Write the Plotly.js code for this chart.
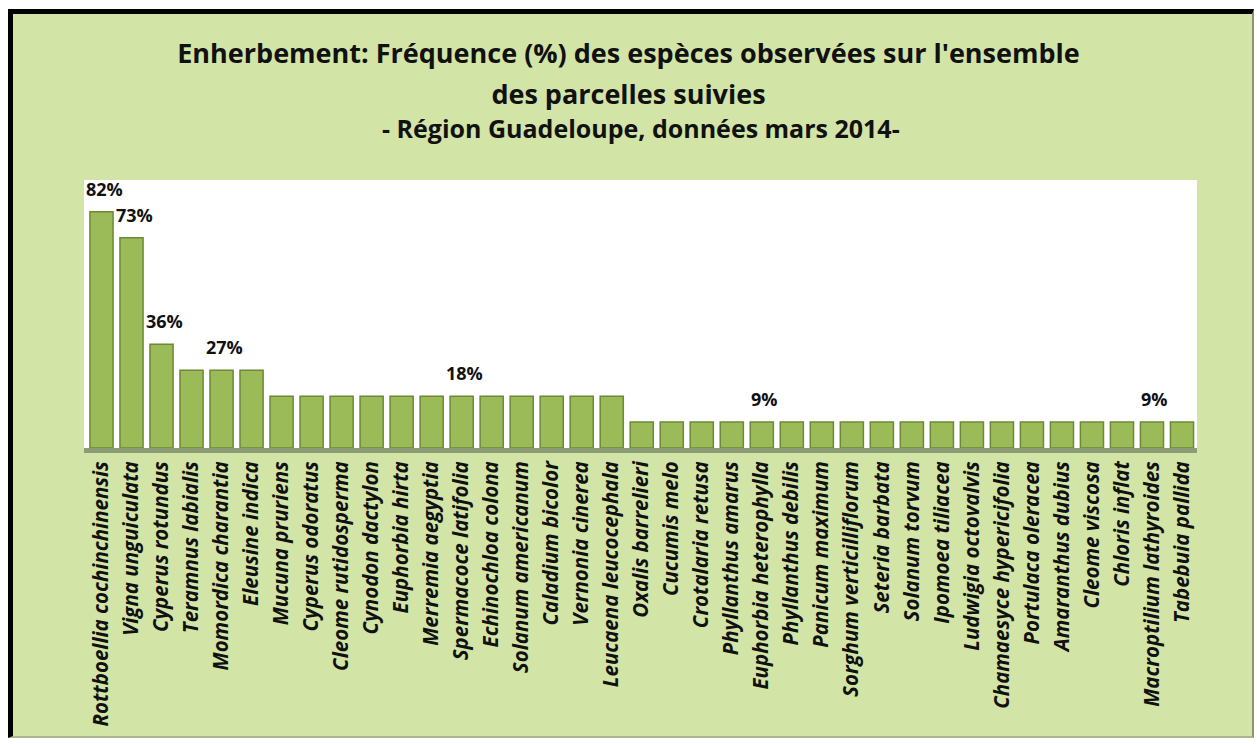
<!DOCTYPE html>
<html>
<head>
<meta charset="utf-8">
<script src="https://cdn.plot.ly/plotly-3.0.1.min.js"></script>
<style>
  html, body { margin: 0; padding: 0; background: #ffffff; }
  #frame {
    position: absolute; left: 8px; top: 9px; width: 1239px; height: 722px;
    background: #d3e4a7;
    border-left: 5px solid #000; border-top: 5px solid #000;
    border-right: 2px solid #8a9478; border-bottom: 2px solid #a9b890;
  }
  #chart { position: absolute; left: 0; top: 0; width: 1257px; height: 744px; }
</style>
</head>
<body>
<div id="frame"></div>
<div id="chart"></div>
<script>
// ---- Data ----
const species = [
  "Rottboellia cochinchinensis", "Vigna unguiculata", "Cyperus rotundus",
  "Teramnus labialis", "Momordica charantia", "Eleusine indica",
  "Mucuna pruriens", "Cyperus odoratus", "Cleome rutidosperma",
  "Cynodon dactylon", "Euphorbia hirta", "Merremia aegyptia",
  "Spermacoce latifolia", "Echinochloa colona", "Solanum americanum",
  "Caladium bicolor", "Vernonia cinerea", "Leucaena leucocephala",
  "Oxalis barrelieri", "Cucumis melo", "Crotalaria retusa",
  "Phyllanthus amarus", "Euphorbia heterophylla", "Phyllanthus debilis",
  "Panicum maximum", "Sorghum verticilliflorum", "Seteria barbata",
  "Solanum torvum", "Ipomoea tiliacea", "Ludwigia octovalvis",
  "Chamaesyce hypericifolia", "Portulaca oleracea", "Amaranthus dubius",
  "Cleome viscosa", "Chloris inflat", "Macroptilium lathyroides",
  "Tabebuia pallida"
];
const frequency = [
  82, 73, 36,
  27, 27, 27,
  18, 18, 18,
  18, 18, 18,
  18, 18, 18,
  18, 18, 18,
  9, 9, 9,
  9, 9, 9,
  9, 9, 9,
  9, 9, 9,
  9, 9, 9,
  9, 9, 9,
  9
];
// species whose value is written above the bar
const labelledSpecies = [
  "Rottboellia cochinchinensis", "Vigna unguiculata", "Cyperus rotundus",
  "Momordica charantia", "Spermacoce latifolia", "Euphorbia heterophylla",
  "Macroptilium lathyroides"
];
const titleLines = [
  "Enherbement: Fréquence (%) des espèces observées sur l'ensemble",
  "des parcelles suivies"
];
const subtitle = "- Région Guadeloupe, données mars 2014-";

// ---- Chart ----
const FONT = "'Open Sans', Lato, sans-serif";

const trace = {
  type: "bar",
  x: species,
  y: frequency,
  marker: { color: "#9bbb59", line: { color: "#6b8a33", width: 1.5 } },
  hoverinfo: "skip"
};

const annotations = labelledSpecies.map(name => {
  const v = frequency[species.indexOf(name)];
  return {
    x: name, y: v, xref: "x", yref: "y",
    text: v + "%", showarrow: false,
    yanchor: "bottom", yshift: 9, xshift: 3,
    font: { family: FONT, size: 18, color: "#111", weight: "bold" }
  };
});
annotations.push({
  xref: "paper", yref: "paper", x: 0.5, y: 1, yshift: 52,
  xanchor: "center", yanchor: "middle", showarrow: false,
  text: subtitle,
  font: { family: FONT, size: 25, color: "#111", weight: "bold" }
});

const layout = {
  width: 1257, height: 744,
  paper_bgcolor: "rgba(0,0,0,0)",
  plot_bgcolor: "#ffffff",
  margin: { l: 84, r: 60, t: 180, b: 296, pad: 0 },
  showlegend: false,
  bargap: 0.23,
  title: {
    text: titleLines.map(t => '<span style="font-size:27px">' + t + '</span>').join("<br>"),
    x: 0.5, xanchor: "center", xref: "container",
    y: 0.915, yanchor: "top", yref: "container",
    font: { family: FONT, size: 31, color: "#111", weight: "bold" }
  },
  xaxis: {
    type: "category",
    tickangle: -90,
    ticks: "",
    showgrid: false,
    showline: true, linecolor: "#8c9c74", linewidth: 5,
    tickfont: { family: FONT, size: 20.5, color: "#111", weight: "bold", style: "italic" },
    automargin: false
  },
  yaxis: {
    range: [0, 93],
    visible: false,
    showgrid: false, zeroline: false
  },
  annotations: annotations
};

Plotly.newPlot("chart", [trace], layout, { displayModeBar: false, staticPlot: true });
</script>
</body>
</html>
